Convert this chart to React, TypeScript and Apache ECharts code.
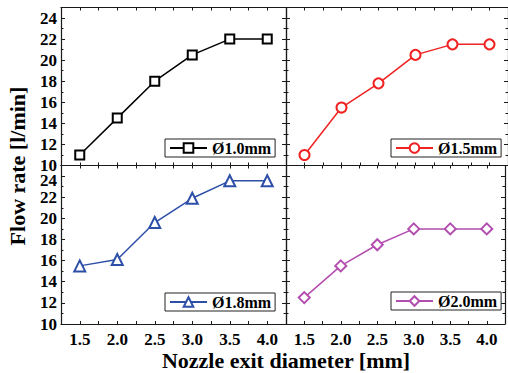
import React, { useEffect, useRef } from "react";
import * as echarts from "echarts";

const diameters = [1.5, 2.0, 2.5, 3.0, 3.5, 4.0];
const flow10 = [11, 14.5, 18, 20.5, 22, 22];
const flow15 = [11, 15.5, 17.8, 20.5, 21.5, 21.5];
const flow18 = [15.5, 16.1, 19.6, 21.9, 23.55, 23.55];
const flow20 = [12.5, 15.5, 17.5, 19, 19, 19];
const seriesNames = ["Ø1.0mm", "Ø1.5mm", "Ø1.8mm", "Ø2.0mm"];
const xTitle = "Nozzle exit diameter [mm]";
const yTitle = "Flow rate [l/min]";

const FONT = "Liberation Serif";
const FRAME = "#1a1a1a";

export default function App() {
  const ref = useRef<HTMLDivElement>(null);
  useEffect(() => {
    if (!ref.current) return;
    const chart = echarts.init(ref.current, null, { renderer: "svg" });
    const values = [flow10, flow15, flow18, flow20];
    const colors = ["#000000", "#f02222", "#2d4fa8", "#b34db0"];
    const symbols = ["emptyRect", "emptyCircle", "emptyTriangle", "emptyDiamond"];
    const symSizes = [9, 10, 11, 11];
    const grids = [
      { left: 61, top: 7.5, width: 225, height: 158 },
      { left: 286, top: 7.5, width: 225, height: 158 },
      { left: 61, top: 165.5, width: 225, height: 158.5 },
      { left: 286, top: 165.5, width: 225, height: 158.5 },
    ];
    const legendPos = [
      { left: 165, top: 139 },
      { left: 391, top: 139 },
      { left: 165, top: 293 },
      { left: 391, top: 292 },
    ];
    const axisLine = { show: true, onZero: false, lineStyle: { color: FRAME, width: 1.2 } };
    const labelStyle = { fontFamily: FONT, fontWeight: "bold" as const, fontSize: 17, color: "#000" };
    const xAxes: any[] = [];
    const yAxes: any[] = [];
    for (let g = 0; g < 4; g++) {
      const bottomRow = g >= 2;
      const leftCol = g % 2 === 0;
      xAxes.push({
        type: "value", gridIndex: g, position: "bottom", min: 1.25, max: 4.25, interval: 0.25,
        axisLine, splitLine: { show: false },
        axisTick: { show: true, inside: true, length: 3, lineStyle: { color: FRAME, width: 1 } },
        axisLabel: {
          show: bottomRow, ...labelStyle, margin: 7,
          formatter: (v: number) => (Math.abs(v * 2 - Math.round(v * 2)) < 1e-6 ? v.toFixed(1) : ""),
        },
      });
      yAxes.push({
        type: "value", gridIndex: g, position: "left", min: 10, max: 25, interval: 2,
        axisLine, splitLine: { show: false },
        axisTick: { show: true, inside: true, length: 4, lineStyle: { color: FRAME, width: 1 } },
        minorTick: { show: true, splitNumber: 2, length: 2.5, lineStyle: { color: FRAME, width: 1 } },
        axisLabel: {
          show: leftCol, ...labelStyle, margin: 4, showMaxLabel: false,
          formatter: (v: number) => (bottomRow && v === 24 ? "{s|24}" : String(v)),
          rich: { s: { ...labelStyle, padding: [9, 0, 0, 0] } },
        },
      });
    }
    for (let g = 0; g < 4; g++) {
      xAxes.push({
        type: "value", gridIndex: g, position: "top", min: 1.25, max: 4.25, interval: 0.25,
        axisLine, splitLine: { show: false },
        axisTick: { show: true, inside: true, length: 3, lineStyle: { color: FRAME, width: 1 } },
        axisLabel: { show: false },
      });
      yAxes.push({
        type: "value", gridIndex: g, position: "right", min: 10, max: 25, interval: 2,
        axisLine, splitLine: { show: false },
        axisTick: { show: true, inside: true, length: 4, lineStyle: { color: FRAME, width: 1 } },
        minorTick: { show: true, splitNumber: 2, length: 2.5, lineStyle: { color: FRAME, width: 1 } },
        axisLabel: { show: false },
      });
    }
    const series = values.map((vals, i) => ({
      type: "line",
      name: seriesNames[i],
      xAxisIndex: i,
      yAxisIndex: i,
      data: diameters.map((d, k) => [d, vals[k]]),
      symbol: symbols[i],
      symbolSize: symSizes[i],
      lineStyle: { color: colors[i], width: 1.5 },
      itemStyle: { color: colors[i], borderColor: colors[i], borderWidth: 1.5 },
      z: 5,
    }));
    const legends = seriesNames.map((n, i) => ({
      data: [n],
      ...legendPos[i],
      orient: "horizontal",
      borderColor: "#222",
      borderWidth: 1,
      padding: [1, 4, 1, 4],
      itemWidth: 37,
      itemHeight: 12,
      textStyle: { fontFamily: FONT, fontWeight: "bold", fontSize: 16, color: "#000" },
      selectedMode: false,
      backgroundColor: "#fff",
    }));
    chart.setOption({
      animation: false,
      backgroundColor: "#fff",
      grid: grids.map((g) => ({ ...g, containLabel: false })),
      xAxis: xAxes,
      yAxis: yAxes,
      series,
      legend: legends,
      graphic: [
        {
          type: "text", x: 17, y: 166, rotation: Math.PI / 2,
          style: { text: yTitle, fontFamily: FONT, fontWeight: "bold", fontSize: 22, fill: "#000", align: "center", verticalAlign: "middle" },
        },
        {
          type: "text", x: 286, y: 360,
          style: { text: xTitle, fontFamily: FONT, fontWeight: "bold", fontSize: 22, fill: "#000", align: "center", verticalAlign: "middle" },
        },
      ],
    });
    return () => chart.dispose();
  }, []);
  return <div ref={ref} style={{ position: "fixed", left: 0, top: 0, width: 508, height: 373 }} />;
}
